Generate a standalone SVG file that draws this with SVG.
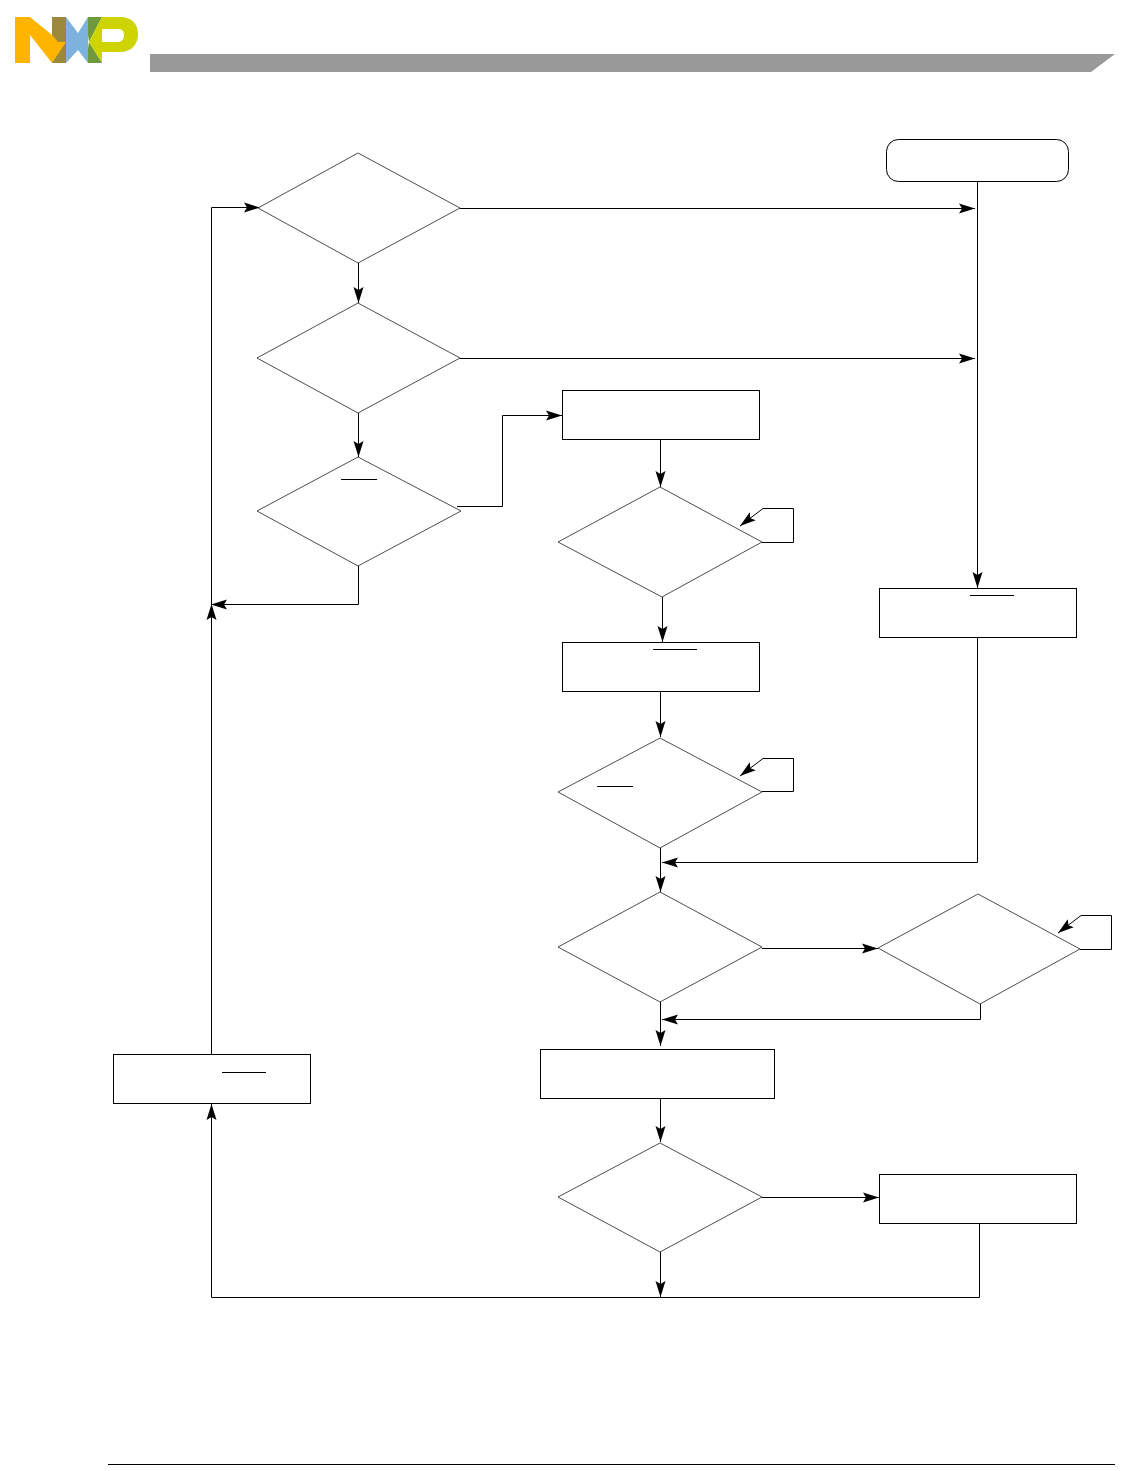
<svg xmlns="http://www.w3.org/2000/svg" width="1127" height="1471" viewBox="0 0 1127 1471">
<style>
.d{fill:#fff;stroke:#000;stroke-width:.7}
.r{fill:#fff;stroke:#000;stroke-width:1}
.c{fill:none;stroke:#000;stroke-width:1}
.a{marker-end:url(#ah)}
.o{stroke:#000;stroke-width:1;fill:none}
</style>
<defs>
<marker id="ah" markerUnits="userSpaceOnUse" markerWidth="18" markerHeight="12" refX="16" refY="5" orient="auto" overflow="visible">
<path d="M0 0L16 5L0 10L3 5Z" fill="#000"/>
</marker>
</defs>
<g id="logo">
<polygon points="52,17 66,17 66,42 52,42" fill="#9c8a3c"/>
<polygon points="52,63 66,63 66,42 58,42" fill="#9c8a3c"/>
<polygon points="15,17 30,17 52,35 58,42 66,42 52,63 30,35 30,63 15,63" fill="#ffb500"/>
<polygon points="66,17 78,33 88,17 88,63 78,50 66,63" fill="#7cb2dc"/>
<polygon points="88,17 102,17 89,42 88,35" fill="#6f9a3c"/>
<polygon points="88,63 102,63 89,42 88,48" fill="#6f9a3c"/>
<path d="M102,17 H120 C132,17 138,24 138,34 C138,44 132,52 120,52 H102 V63 L89,42 Z M102,29 V42 H118 C122,42 124,39 124,35 C124,31 122,29 118,29 Z" fill="#cdd400" fill-rule="evenodd"/>
</g>
<polygon id="header-band" points="150,54 1115,54 1091,72 150,72" fill="#999"/>
<line id="footer-rule" x1="108" y1="1464.500" x2="1115" y2="1464.500" stroke="#000" stroke-width="1"/>
<g id="connectors">
<path class="c a" d="M460 208.500H975"/>
<path class="c a" d="M460 358.500H975"/>
<path class="c a" d="M977.500 181V588"/>
<path class="c a" d="M358.500 263V303"/>
<path class="c a" d="M358.500 413V457"/>
<path class="c a" d="M457 506.500H502.500V415.500H562"/>
<path class="c a" d="M358.500 566V604.500H211"/>
<path class="c a" d="M211.500 1055V604"/>
<path class="c a" d="M211.500 604V207.500H260"/>
<path class="c a" d="M660.500 439V487"/>
<path class="c a" d="M662.500 597V642"/>
<path class="c a" d="M660.500 691V737"/>
<path class="c a" d="M660.500 848V892"/>
<path class="c a" d="M977.500 637V862.500H662"/>
<path class="c a" d="M762 948.500H878"/>
<path class="c a" d="M980.500 1004V1019.500H662"/>
<path class="c a" d="M660.500 1002V1046"/>
<path class="c a" d="M660.500 1098V1142"/>
<path class="c a" d="M762 1197.500H879"/>
<path class="c a" d="M660.500 1252V1297"/>
<path class="c a" d="M979.500 1223V1297.500H211.500V1104"/>
<path class="c a" d="M762 542.500H793.500V508.500H763L740 526"/>
<path class="c a" d="M762 791.500H793.500V758.500H763L740 776"/>
<path class="c a" d="M1080 949.500H1111.500V915.500H1081L1058 933"/>
</g>
<g id="start"><rect class="r" x="886.500" y="139.500" width="182" height="42" rx="12"/></g>
<g id="decision-1"><polygon class="d" points="258,208 358,153 460,208 358,263"/></g>
<g id="decision-2"><polygon class="d" points="257,358 358,303 460,358 358,413"/></g>
<g id="decision-3"><polygon class="d" points="257,511 358,457 461,511 358,566"/><line class="o" x1="341" y1="479.500" x2="377" y2="479.500"/></g>
<g id="process-1"><rect class="r" x="562.500" y="390.500" width="197" height="49"/></g>
<g id="decision-4"><polygon class="d" points="558,542 660,487 762,542 662,597"/></g>
<g id="process-2"><rect class="r" x="562.500" y="642.500" width="197" height="49"/><line class="o" x1="653" y1="649.500" x2="697" y2="649.500"/></g>
<g id="process-3"><rect class="r" x="879.500" y="588.500" width="197" height="49"/><line class="o" x1="970" y1="595.500" x2="1014" y2="595.500"/></g>
<g id="decision-5"><polygon class="d" points="558,792 660,738 762,792 660,848"/><line class="o" x1="597" y1="786.500" x2="633" y2="786.500"/></g>
<g id="decision-6"><polygon class="d" points="558,947 660,892 762,947 660,1002"/></g>
<g id="decision-7"><polygon class="d" points="878,948 978,894 1080,949 980,1004"/></g>
<g id="process-4"><rect class="r" x="540.500" y="1049.500" width="234" height="49"/></g>
<g id="process-5"><rect class="r" x="113.500" y="1054.500" width="197" height="49"/><line class="o" x1="222" y1="1072.500" x2="266" y2="1072.500"/></g>
<g id="decision-8"><polygon class="d" points="558,1197 660,1143 762,1197 660,1252"/></g>
<g id="process-6"><rect class="r" x="879.500" y="1174.500" width="197" height="49"/></g>
</svg>
